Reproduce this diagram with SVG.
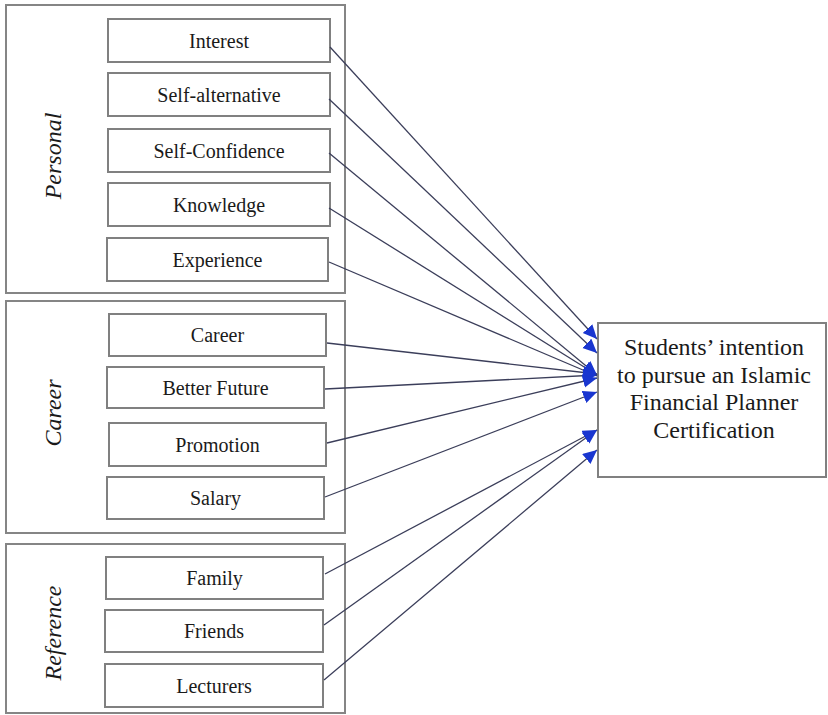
<svg xmlns="http://www.w3.org/2000/svg" width="828" height="715" viewBox="0 0 828 715">
<style>
.grp{fill:#fff;stroke:#858585;stroke-width:2}
.box{fill:#fff;stroke:#808080;stroke-width:2}
.lbl{font-family:"Liberation Serif","Times New Roman",serif;font-size:20px;fill:#1a1a1a;text-anchor:middle}
.glbl{font-family:"Liberation Serif","Times New Roman",serif;font-size:24px;font-style:italic;fill:#1a1a1a;text-anchor:middle}
.tlbl{font-family:"Liberation Serif","Times New Roman",serif;font-size:24px;fill:#1a1a1a;text-anchor:middle}
.con{stroke:#3b3e5a;stroke-width:1.3;fill:none;marker-end:url(#ah)}
</style>
<defs>
<marker id="ah" markerUnits="userSpaceOnUse" markerWidth="16" markerHeight="14" refX="14" refY="6.5" orient="auto">
<path d="M0,0 L14,6.5 L0,13 Z" fill="#1936d0"/>
</marker>
</defs>
<rect width="828" height="715" fill="#fff"/>
<g id="group-personal">
<rect class="grp" x="6" y="5" width="339" height="288"/>
<text class="glbl" transform="translate(61,156) rotate(-90)">Personal</text>
</g>
<g id="group-career">
<rect class="grp" x="6" y="301" width="339" height="232"/>
<text class="glbl" transform="translate(61,413) rotate(-90)">Career</text>
</g>
<g id="group-reference">
<rect class="grp" x="6" y="544" width="339" height="169"/>
<text class="glbl" transform="translate(61,633) rotate(-90)">Reference</text>
</g>
<g id="interest"><rect class="box" x="108" y="19" width="222" height="43"/><text class="lbl" x="219" y="47.5">Interest</text></g>
<g id="self-alternative"><rect class="box" x="108" y="73" width="222" height="43"/><text class="lbl" x="219" y="101.5">Self-alternative</text></g>
<g id="self-confidence"><rect class="box" x="108" y="129" width="222" height="43"/><text class="lbl" x="219" y="157.5">Self-Confidence</text></g>
<g id="knowledge"><rect class="box" x="108" y="183" width="222" height="43"/><text class="lbl" x="219" y="211.5">Knowledge</text></g>
<g id="experience"><rect class="box" x="107" y="238" width="221" height="43"/><text class="lbl" x="217.5" y="266.5">Experience</text></g>
<g id="career"><rect class="box" x="109" y="314" width="217" height="42"/><text class="lbl" x="217.5" y="342">Career</text></g>
<g id="better-future"><rect class="box" x="107" y="367" width="217" height="41"/><text class="lbl" x="215.5" y="394.5">Better Future</text></g>
<g id="promotion"><rect class="box" x="109" y="423" width="217" height="43"/><text class="lbl" x="217.5" y="451.5">Promotion</text></g>
<g id="salary"><rect class="box" x="107" y="477" width="217" height="42"/><text class="lbl" x="215.5" y="505">Salary</text></g>
<g id="family"><rect class="box" x="106" y="557" width="217" height="42"/><text class="lbl" x="214.5" y="585">Family</text></g>
<g id="friends"><rect class="box" x="105" y="610" width="218" height="42"/><text class="lbl" x="214" y="638">Friends</text></g>
<g id="lecturers"><rect class="box" x="105" y="664" width="218" height="43"/><text class="lbl" x="214" y="692.5">Lecturers</text></g>
<g id="target">
<rect class="box" x="598" y="323" width="228" height="154"/>
<text class="tlbl" x="714" y="355">Students’ intention</text>
<text class="tlbl" x="714" y="383">to pursue an Islamic</text>
<text class="tlbl" x="714" y="410">Financial Planner</text>
<text class="tlbl" x="714" y="438">Certification</text>
</g>
<g id="connectors">
<line class="con" x1="330" y1="47" x2="597" y2="339"/>
<line class="con" x1="329" y1="99" x2="597" y2="353"/>
<line class="con" x1="329" y1="153" x2="597" y2="375"/>
<line class="con" x1="329" y1="208" x2="597" y2="375"/>
<line class="con" x1="329" y1="262" x2="597" y2="376"/>
<line class="con" x1="327" y1="343" x2="597" y2="374"/>
<line class="con" x1="325" y1="389" x2="597" y2="375"/>
<line class="con" x1="327" y1="443" x2="597" y2="378"/>
<line class="con" x1="325" y1="497" x2="597" y2="392"/>
<line class="con" x1="325" y1="574" x2="597" y2="430"/>
<line class="con" x1="324" y1="625" x2="597" y2="430"/>
<line class="con" x1="324" y1="680" x2="597" y2="450"/>
</g>
</svg>
